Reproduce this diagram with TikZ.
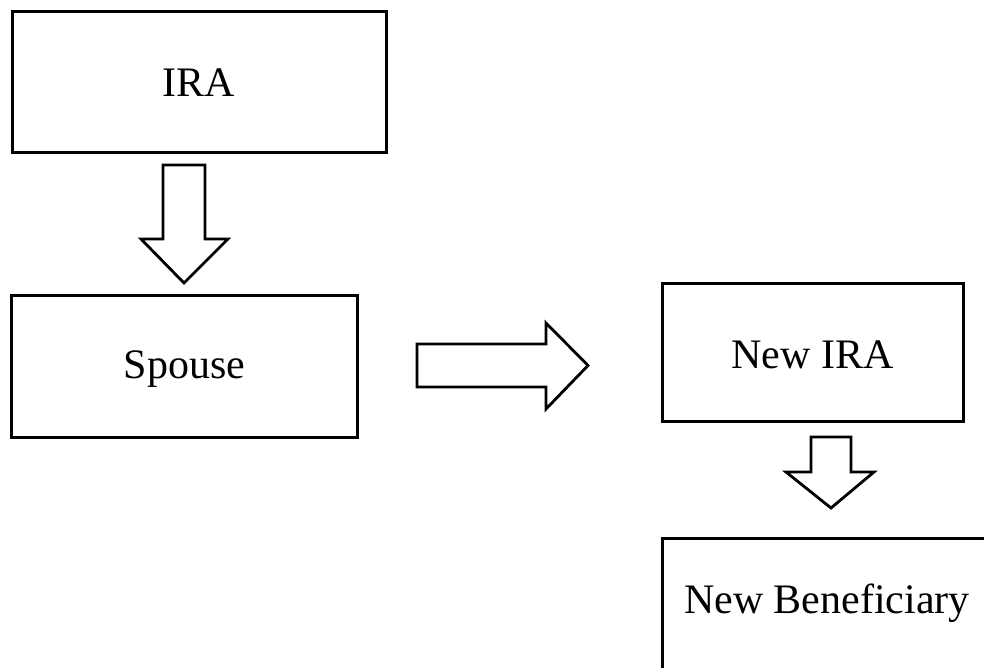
\documentclass[tikz,border=0pt]{standalone}
\usepackage{fontspec}
\setmainfont{Liberation Serif}
\begin{document}
\begin{tikzpicture}[x=1pt,y=-1pt,
  boxstyle/.style={draw=black, line width=3pt, fill=white, rectangle, inner sep=0pt},
  labelstyle/.style={anchor=base, inner sep=0pt, font=\fontsize{42}{48}\selectfont},
  blockarrow/.style={draw=black, line width=2.8pt, fill=white, line join=miter}]
\useasboundingbox (0,0) rectangle (984,668);
\clip (0,0) rectangle (984,668);
\node[boxstyle, minimum width=374pt, minimum height=141pt] (ira) at (199,82.5) {};
\node[labelstyle] (iratext) at (199,97) {IRA};
\node[boxstyle, minimum width=346pt, minimum height=142pt] (spouse) at (184,366.5) {};
\node[labelstyle] (spousetext) at (184.5,378) {Spouse};
\node[boxstyle, minimum width=301pt, minimum height=138pt] (newira) at (812.5,352) {};
\node[labelstyle] (newiratext) at (812.5,368) {New IRA};
\node[boxstyle, minimum width=330pt, minimum height=142pt] (newben) at (827,609) {};
\node[labelstyle] (newbentext) at (827,613) {New Beneficiary};
% arrow IRA -> Spouse
\draw[blockarrow] (163,165) -- (205,165) -- (205,239) -- (228,239) -- (184,283) -- (141,239) -- (163,239) -- cycle;
% arrow Spouse -> New IRA
\draw[blockarrow] (417,344) -- (546,344) -- (546,323) -- (588,365.5) -- (546,409) -- (546,387) -- (417,387) -- cycle;
% arrow New IRA -> New Beneficiary
\draw[blockarrow] (811,437) -- (851,437) -- (851,472) -- (874,472) -- (831,508) -- (786,472) -- (811,472) -- cycle;
\end{tikzpicture}
\end{document}
